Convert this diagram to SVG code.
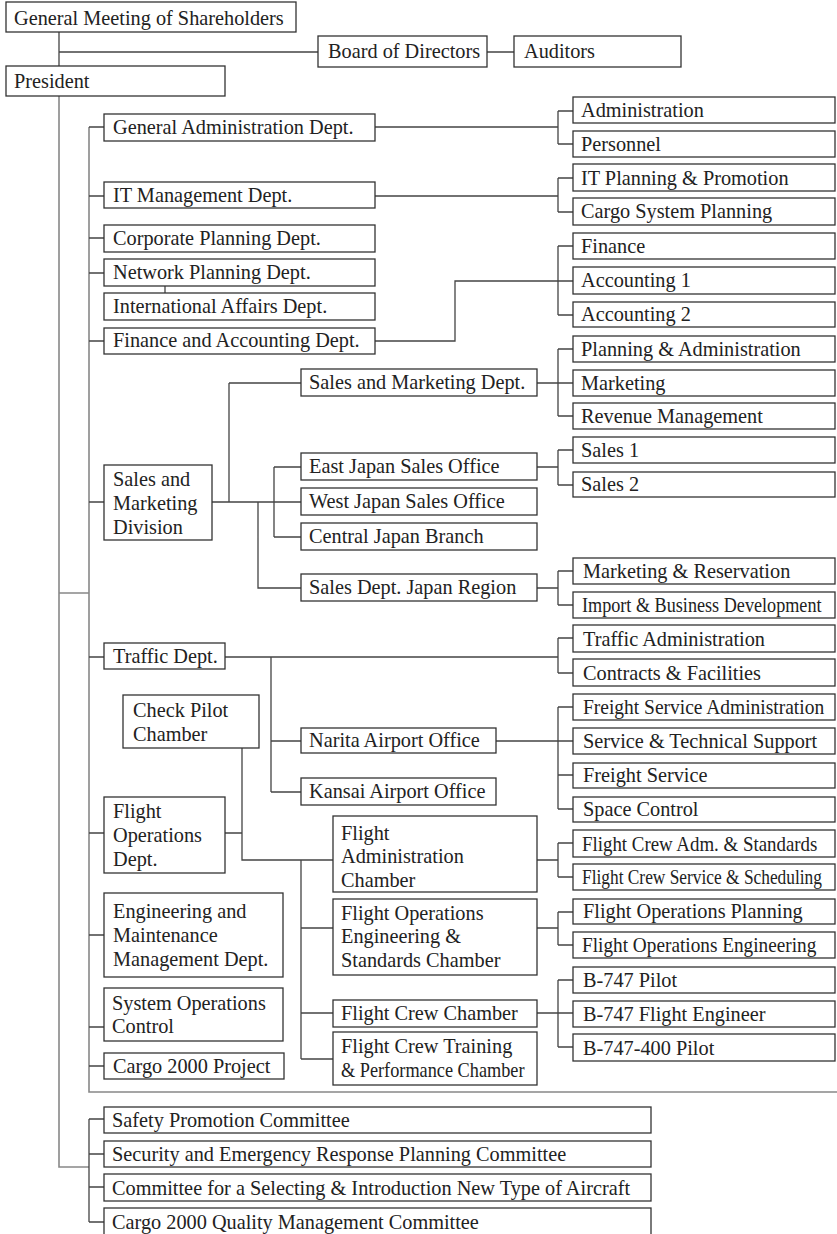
<svg xmlns="http://www.w3.org/2000/svg" width="837" height="1234" viewBox="0 0 837 1234">
<style>
rect{fill:#fff;stroke:#333;stroke-width:1.3}
text{font-family:"Liberation Serif","Times New Roman",serif;font-size:20.3px;fill:#222}
.c path{fill:none;stroke:#444;stroke-width:1.3}
.c path.g{stroke:#888;stroke-width:1.6}
</style>
<rect x="0" y="0" width="837" height="1234" style="stroke:none"/>
<g class="c" id="connectors">
<path class="g" d="M59,96V1167H89M59,593H89M89,127V1092H837"/>
<path d="M59,32V66M59,52H318M487,52H514"/>
<path d="M89,127H104M89,196H104M89,238H104M89,273H104M89,341H104M89,502H104M89,657H104M89,833H104M89,935H104M89,1027H104M89,1066H104"/>
<path d="M165,286V293"/>
<path d="M375,127H558M558,111V144M558,111H573M558,144H573"/>
<path d="M375,196H558M558,178V212M558,178H573M558,212H573"/>
<path d="M375,341H455V281H573M558,246V315M558,246H573M558,315H573"/>
<path d="M212,502H301M229,383V502M229,383H301M258,502V588H301M274,467V537M274,467H301M274,537H301"/>
<path d="M537,383H573M558,349V416M558,349H573M558,416H573"/>
<path d="M537,467H558M558,450V485M558,450H573M558,485H573"/>
<path d="M537,588H558M558,571V605M558,571H573M558,605H573"/>
<path d="M225,657H558M558,638V673M558,638H573M558,673H573"/>
<path d="M271,657V792M271,741H301M271,792H301"/>
<path d="M496,741H573M558,707V809M558,707H573M558,775H573M558,809H573"/>
<path d="M242,748V860H333M225,833H242M301,860V1059M301,928H333M301,1013H333M301,1059H333"/>
<path d="M537,860H558M558,843V877M558,843H573M558,877H573"/>
<path d="M537,928H558M558,912V945M558,912H573M558,945H573"/>
<path d="M537,1013H573M558,980V1047M558,980H573M558,1047H573"/>
<path d="M89,1119V1222M89,1119H104M89,1154H104M89,1187H104M89,1222H104"/>
</g>
<g id="gms"><rect x="6" y="2" width="290" height="30"/><text x="14" y="25">General Meeting of Shareholders</text></g>
<g id="bod"><rect x="318" y="36" width="169" height="31"/><text x="328" y="58">Board of Directors</text></g>
<g id="aud"><rect x="514" y="36" width="167" height="31"/><text x="524" y="58">Auditors</text></g>
<g id="pres"><rect x="6" y="66" width="219" height="30"/><text x="14" y="88">President</text></g>

<g id="gad"><rect x="104" y="114" width="271" height="27"/><text x="113" y="134">General Administration Dept.</text></g>
<g id="itm"><rect x="104" y="182" width="271" height="26"/><text x="113" y="202">IT Management Dept.</text></g>
<g id="cpd"><rect x="104" y="225" width="271" height="27"/><text x="113" y="245">Corporate Planning Dept.</text></g>
<g id="npd"><rect x="104" y="259" width="271" height="27"/><text x="113" y="279">Network Planning Dept.</text></g>
<g id="iad"><rect x="104" y="293" width="271" height="27"/><text x="113" y="313">International Affairs Dept.</text></g>
<g id="fad"><rect x="104" y="328" width="271" height="26"/><text x="113" y="347">Finance and Accounting Dept.</text></g>
<g id="smdiv"><rect x="104" y="465" width="108" height="75"/><text x="113" y="486">Sales and</text><text x="113" y="510">Marketing</text><text x="113" y="534">Division</text></g>
<g id="trd"><rect x="104" y="643" width="121" height="26"/><text x="113" y="663">Traffic Dept.</text></g>
<g id="cpc"><rect x="123" y="695" width="136" height="53"/><text x="133" y="717">Check Pilot</text><text x="133" y="741">Chamber</text></g>
<g id="fod"><rect x="104" y="797" width="121" height="76"/><text x="113" y="818">Flight</text><text x="113" y="842">Operations</text><text x="113" y="866">Dept.</text></g>
<g id="emd"><rect x="104" y="893" width="179" height="84"/><text x="113" y="918">Engineering and</text><text x="113" y="942">Maintenance</text><text x="113" y="966">Management Dept.</text></g>
<g id="soc"><rect x="104" y="988" width="179" height="53"/><text x="112" y="1010">System Operations</text><text x="112" y="1033">Control</text></g>
<g id="c2p"><rect x="104" y="1053" width="180" height="26"/><text x="113" y="1073">Cargo 2000 Project</text></g>

<g id="smd"><rect x="301" y="369" width="236" height="27"/><text x="309" y="389">Sales and Marketing Dept.</text></g>
<g id="ejs"><rect x="301" y="453" width="236" height="27"/><text x="309" y="473">East Japan Sales Office</text></g>
<g id="wjs"><rect x="301" y="488" width="236" height="27"/><text x="309" y="508">West Japan Sales Office</text></g>
<g id="cjb"><rect x="301" y="523" width="236" height="27"/><text x="309" y="543">Central Japan Branch</text></g>
<g id="sdj"><rect x="301" y="574" width="236" height="27"/><text x="309" y="594">Sales Dept. Japan Region</text></g>
<g id="nao"><rect x="301" y="728" width="195" height="25"/><text x="309" y="747">Narita Airport Office</text></g>
<g id="kao"><rect x="301" y="778" width="195" height="27"/><text x="309" y="798">Kansai Airport Office</text></g>
<g id="fac"><rect x="333" y="816" width="204" height="76"/><text x="341" y="840">Flight</text><text x="341" y="863">Administration</text><text x="341" y="887">Chamber</text></g>
<g id="foe"><rect x="333" y="899" width="204" height="76"/><text x="341" y="920">Flight Operations</text><text x="341" y="943">Engineering &amp;</text><text x="341" y="967">Standards Chamber</text></g>
<g id="fcc"><rect x="333" y="1000" width="204" height="27"/><text x="341" y="1020">Flight Crew Chamber</text></g>
<g id="fct"><rect x="333" y="1032" width="204" height="53"/><text x="341" y="1053">Flight Crew Training</text><text transform="translate(341,1077) scale(0.9,1)">&amp; Performance Chamber</text></g>

<g id="adm"><rect x="573" y="97" width="262" height="26"/><text x="581" y="117">Administration</text></g>
<g id="per"><rect x="573" y="131" width="262" height="26"/><text x="581" y="151">Personnel</text></g>
<g id="itp"><rect x="573" y="164" width="262" height="27"/><text x="581" y="185">IT Planning &amp; Promotion</text></g>
<g id="csp"><rect x="573" y="198" width="262" height="27"/><text x="581" y="218">Cargo System Planning</text></g>
<g id="fin"><rect x="573" y="233" width="262" height="26"/><text x="581" y="253">Finance</text></g>
<g id="ac1"><rect x="573" y="267" width="262" height="27"/><text x="581" y="287">Accounting 1</text></g>
<g id="ac2"><rect x="573" y="302" width="262" height="25"/><text x="581" y="321">Accounting 2</text></g>
<g id="pna"><rect x="573" y="336" width="262" height="26"/><text x="581" y="356">Planning &amp; Administration</text></g>
<g id="mkt"><rect x="573" y="370" width="262" height="26"/><text x="581" y="390">Marketing</text></g>
<g id="rev"><rect x="573" y="403" width="262" height="26"/><text x="581" y="423">Revenue Management</text></g>
<g id="s1"><rect x="573" y="437" width="262" height="26"/><text x="581" y="457">Sales 1</text></g>
<g id="s2"><rect x="573" y="472" width="262" height="25"/><text x="581" y="491">Sales 2</text></g>
<g id="mnr"><rect x="573" y="558" width="262" height="26"/><text x="583" y="578">Marketing &amp; Reservation</text></g>
<g id="ibd"><rect x="573" y="592" width="262" height="26"/><text transform="translate(582,612) scale(0.895,1)">Import &amp; Business Development</text></g>
<g id="tra"><rect x="573" y="625" width="262" height="27"/><text x="583" y="646">Traffic Administration</text></g>
<g id="cnf"><rect x="573" y="659" width="262" height="27"/><text x="583" y="680">Contracts &amp; Facilities</text></g>
<g id="fsa"><rect x="573" y="694" width="262" height="26"/><text transform="translate(583,714) scale(0.96,1)">Freight Service Administration</text></g>
<g id="sts"><rect x="573" y="728" width="262" height="26"/><text x="583" y="748">Service &amp; Technical Support</text></g>
<g id="fs"><rect x="573" y="763" width="262" height="25"/><text x="583" y="782">Freight Service</text></g>
<g id="sc"><rect x="573" y="797" width="262" height="25"/><text x="583" y="816">Space Control</text></g>
<g id="fca"><rect x="573" y="830" width="262" height="27"/><text transform="translate(582,851) scale(0.93,1)">Flight Crew Adm. &amp; Standards</text></g>
<g id="fcs"><rect x="573" y="864" width="262" height="26"/><text transform="translate(582,884) scale(0.855,1)">Flight Crew Service &amp; Scheduling</text></g>
<g id="fop"><rect x="573" y="899" width="262" height="25"/><text x="583" y="918">Flight Operations Planning</text></g>
<g id="foe2"><rect x="573" y="932" width="262" height="26"/><text transform="translate(582,952) scale(0.95,1)">Flight Operations Engineering</text></g>
<g id="b1"><rect x="573" y="967" width="262" height="26"/><text x="583" y="987">B-747 Pilot</text></g>
<g id="b2"><rect x="573" y="1001" width="262" height="26"/><text x="583" y="1021">B-747 Flight Engineer</text></g>
<g id="b3"><rect x="573" y="1034" width="262" height="27"/><text x="583" y="1055">B-747-400 Pilot</text></g>

<g id="cm1"><rect x="104" y="1107" width="547" height="26"/><text x="112" y="1127">Safety Promotion Committee</text></g>
<g id="cm2"><rect x="104" y="1141" width="547" height="26"/><text x="112" y="1161">Security and Emergency Response Planning Committee</text></g>
<g id="cm3"><rect x="104" y="1174" width="547" height="27"/><text x="112" y="1195">Committee for a Selecting &amp; Introduction New Type of Aircraft</text></g>
<g id="cm4"><rect x="104" y="1208" width="547" height="40"/><text x="112" y="1229">Cargo 2000 Quality Management Committee</text></g>
</svg>
